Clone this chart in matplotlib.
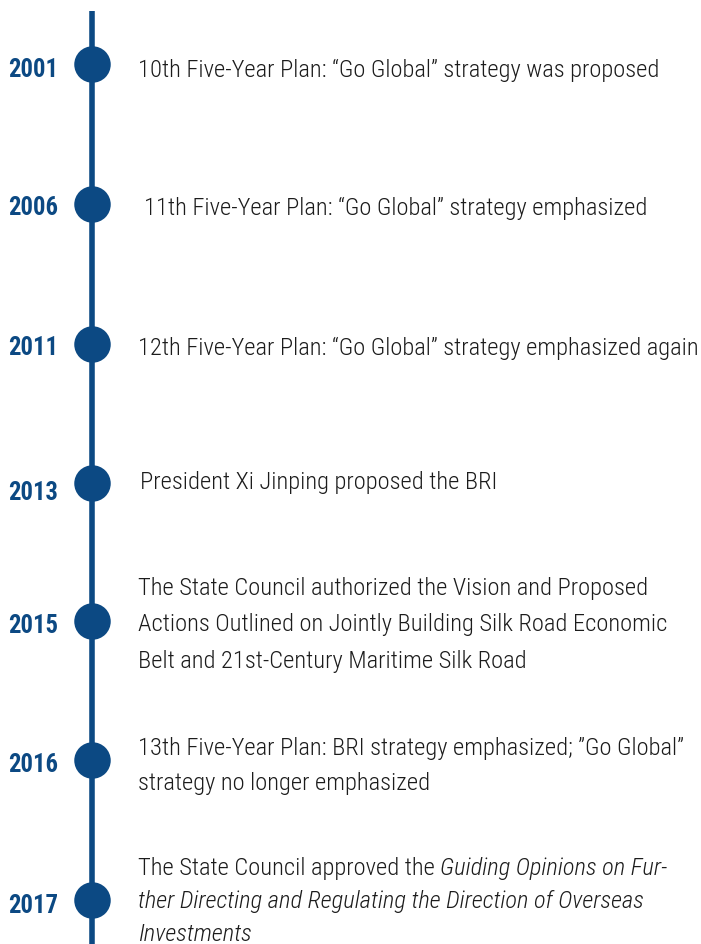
import matplotlib
matplotlib.use("Agg")
import matplotlib.pyplot as plt
from matplotlib import font_manager

# data
years = ["2001", "2006", "2011", "2013", "2015", "2016", "2017"]
events = [
    [[("10th Five-Year Plan: \u201cGo Global\u201d strategy was proposed", "normal")]],
    [[("11th Five-Year Plan: \u201cGo Global\u201d strategy emphasized", "normal")]],
    [[("12th Five-Year Plan: \u201cGo Global\u201d strategy emphasized again", "normal")]],
    [[("President Xi Jinping proposed the BRI", "normal")]],
    [[("The State Council authorized the Vision and Proposed", "normal")],
     [("Actions Outlined on Jointly Building Silk Road Economic", "normal")],
     [("Belt and 21st-Century Maritime Silk Road", "normal")]],
    [[("13th Five-Year Plan: BRI strategy emphasized; \u201dGo Global\u201d", "normal")],
     [("strategy no longer emphasized", "normal")]],
    [[("The State Council approved the ", "normal"),
      ("Guiding Opinions on Fur-", "italic")],
     [("ther Directing and Regulating the Direction of Overseas", "italic")],
     [("Investments", "italic")]],
]

# layout (pixel rows, baselines)
dot_y = [65, 205, 345, 484, 622, 761, 901]
year_base = [77, 215, 355, 500, 633, 772, 913]
text_base = [77, 215, 355, 489, 595, 755, 875]
line_gap = [0, 0, 0, 0, 36.5, 35, 33]
text_x = [138, 144, 138, 140, 138, 138, 138]

names = {f.name for f in font_manager.fontManager.ttflist}
font = "DejaVu Sans"
for cand in ["Roboto Condensed", "Fira Sans Condensed", "IBM Plex Sans Condensed", "Barlow Semi Condensed"]:
    if cand in names:
        font = cand
        break
body_weight = "light" if font == "Roboto Condensed" else "normal"

blue = "#0c4983"
ink = "#1c1c1c"

fig = plt.figure(figsize=(7.01, 9.45), dpi=100)
ax = fig.add_axes([0, 0, 1, 1])
ax.set_xlim(0, 701)
ax.set_ylim(945, 0)
ax.axis("off")
renderer = fig.canvas.get_renderer()

# fit body size so the longest single line spans like the reference (~559 px)
probe = ax.text(0, 0, events[2][0][0][0], fontsize=20, family=font, weight=body_weight)
w = probe.get_window_extent(renderer=renderer).width
probe.remove()
body_size = 20 * 559 / w

probe = ax.text(0, 0, "2006", fontsize=20, family=font, weight="bold")
w = probe.get_window_extent(renderer=renderer).width
probe.remove()
year_size = 20 * 50 / w

ax.plot([92, 92], [12, 945], color=blue, lw=4, solid_capstyle="butt", zorder=1)
ax.scatter([92] * len(dot_y), dot_y, s=690, color=blue, zorder=2, linewidths=0)

for yr, y in zip(years, year_base):
    ax.text(58, y, yr, ha="right", va="baseline", fontsize=year_size,
            fontweight="bold", color=blue, family=font)

for i, lines in enumerate(events):
    for j, segs in enumerate(lines):
        y = text_base[i] + j * line_gap[i]
        x = text_x[i]
        for s, style in segs:
            t = ax.text(x, y, s, ha="left", va="baseline", fontsize=body_size,
                        style=style, color=ink, family=font, weight=body_weight)
            bb = t.get_window_extent(renderer=renderer)
            x = ax.transData.inverted().transform((bb.x1, bb.y0))[0]

fig.savefig("out.png", dpi=100)
